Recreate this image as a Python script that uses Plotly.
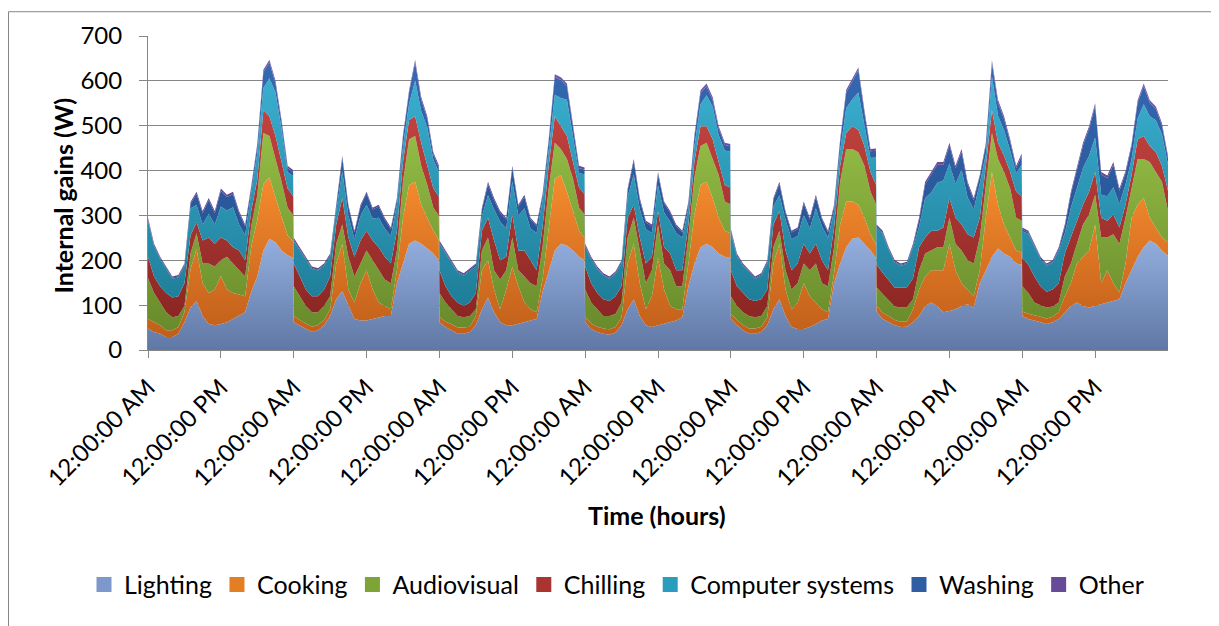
import plotly.graph_objects as go
import numpy as np

# time stamps in hours (hourly samples, plus the sample just before each midnight drop)
hours = (list(range(0, 24)) + [23.9] + list(range(24, 48)) + [47.9] + list(range(48, 72)) + [71.9]
         + list(range(72, 96)) + [95.9] + list(range(96, 120)) + [119.9]
         + list(range(120, 144)) + [143.9] + list(range(144, 169)))
tick_hours = [0, 12, 24, 36, 48, 60, 72, 84, 96, 108, 120, 132, 144, 156]
tick_labels = ["12:00:00 AM", "12:00:00 PM"] * 7

series_names = ["Lighting", "Cooking", "Audiovisual", "Chilling",
                "Computer systems", "Washing", "Other"]

lighting = [
    48, 40, 36, 29, 29, 36, 62, 95, 109, 76, 58, 55, 58, 62, 69, 76, 84, 130, 164, 222, 248, 240, 222, 211, 205,
    62, 55, 47, 40, 44, 55, 76, 113, 131, 98, 69, 66, 66, 69, 73, 76, 76, 149, 193, 237, 244, 237, 226, 215, 200,
    62, 51, 44, 36, 36, 40, 55, 91, 117, 84, 62, 55, 55, 58, 62, 66, 69, 130, 178, 222, 237, 233, 222, 208, 200,
    62, 47, 40, 36, 34, 39, 55, 91, 113, 76, 55, 51, 55, 58, 62, 66, 73, 142, 193, 229, 237, 229, 215, 208, 205,
    69, 55, 44, 36, 36, 40, 55, 91, 113, 76, 51, 47, 47, 51, 58, 66, 69, 149, 193, 229, 248, 251, 237, 222, 205,
    85, 69, 62, 55, 51, 52, 62, 76, 98, 106, 98, 84, 87, 91, 98, 102, 95, 149, 178, 208, 226, 215, 208, 193, 190,
    76, 69, 66, 62, 58, 62, 69, 84, 98, 106, 98, 95, 98, 102, 106, 109, 113, 149, 178, 208, 229, 244, 237, 222,
    210]
cooking = [
    21, 22, 19, 15, 15, 15, 22, 85, 116, 73, 69, 80, 107, 73, 58, 48, 36, 100, 126, 148, 137, 100, 78, 44, 38,
    14, 12, 12, 12, 12, 12, 15, 80, 106, 37, 37, 83, 112, 66, 33, 22, 15, 29, 102, 131, 131, 87, 69, 51, 45,
    12, 12, 14, 14, 14, 12, 21, 87, 83, 51, 29, 80, 130, 84, 44, 25, 15, 29, 88, 160, 153, 120, 88, 58, 50,
    12, 12, 12, 12, 12, 12, 18, 102, 124, 73, 36, 69, 150, 77, 36, 25, 18, 51, 109, 139, 138, 110, 80, 58, 55,
    12, 12, 12, 12, 12, 12, 18, 102, 124, 59, 40, 59, 102, 69, 48, 25, 15, 22, 87, 102, 83, 73, 58, 36, 30,
    15, 14, 14, 12, 12, 12, 29, 59, 66, 72, 80, 94, 150, 87, 51, 33, 25, 29, 117, 189, 98, 65, 43, 29, 28,
    10, 12, 12, 12, 12, 12, 15, 36, 51, 87, 110, 127, 182, 47, 72, 40, 15, 44, 117, 116, 110, 51, 36, 29,
    30]
audiovisual = [
    91, 65, 51, 40, 29, 25, 14, 35, 35, 44, 66, 51, 35, 73, 66, 54, 44, 46, 55, 114, 92, 86, 75, 62, 58,
    66, 53, 39, 32, 28, 31, 29, 44, 43, 73, 58, 44, 44, 65, 72, 59, 58, 44, 80, 102, 102, 87, 73, 51, 55,
    53, 43, 33, 26, 23, 24, 15, 44, 51, 43, 66, 43, 66, 36, 58, 58, 58, 73, 94, 80, 58, 73, 72, 51, 52,
    61, 47, 39, 28, 30, 29, 33, 58, 58, 73, 58, 58, 75, 58, 80, 51, 51, 58, 83, 87, 87, 87, 95, 65, 65,
    39, 31, 28, 28, 25, 24, 25, 36, 29, 43, 44, 43, 44, 58, 87, 58, 58, 58, 95, 117, 117, 117, 116, 95, 90,
    40, 42, 34, 30, 32, 32, 22, 43, 51, 44, 51, 51, 58, 59, 73, 65, 73, 73, 80, 87, 102, 117, 109, 73, 70,
    56, 46, 28, 26, 25, 23, 22, 44, 44, 44, 72, 80, 66, 102, 73, 109, 109, 102, 65, 102, 87, 124, 124, 124,
    70]
chilling = [
    48, 37, 36, 43, 44, 44, 51, 40, 25, 51, 58, 51, 51, 36, 36, 44, 36, 34, 35, 51, 44, 51, 44, 43, 42,
    51, 44, 37, 36, 36, 37, 44, 43, 59, 43, 44, 51, 44, 44, 51, 51, 44, 44, 44, 43, 44, 51, 43, 43, 42,
    51, 36, 29, 30, 25, 30, 36, 44, 44, 66, 43, 30, 51, 44, 58, 51, 36, 44, 51, 59, 51, 51, 37, 45, 45,
    51, 43, 36, 37, 33, 40, 36, 44, 29, 29, 44, 30, 30, 36, 37, 36, 36, 29, 35, 44, 37, 44, 29, 37, 37,
    58, 44, 43, 37, 36, 37, 37, 51, 44, 44, 43, 44, 44, 37, 44, 51, 36, 44, 36, 36, 51, 50, 44, 44, 44,
    50, 47, 45, 42, 44, 44, 47, 51, 36, 44, 37, 44, 44, 58, 58, 58, 58, 44, 36, 51, 36, 36, 37, 58, 55,
    63, 63, 58, 42, 35, 38, 43, 51, 58, 51, 44, 51, 51, 44, 37, 44, 36, 29, 30, 44, 51, 36, 44, 36,
    45]
computer = [
    80, 67, 61, 54, 42, 42, 38, 61, 38, 36, 53, 43, 69, 67, 89, 58, 56, 41, 60, 49, 85, 97, 74, 36, 45,
    50, 58, 68, 61, 57, 53, 44, 31, 59, 49, 39, 56, 58, 49, 66, 63, 61, 59, 36, 36, 80, 71, 85, 64, 55,
    59, 74, 75, 67, 68, 70, 59, 32, 50, 70, 86, 63, 74, 78, 94, 71, 83, 59, 34, 48, 63, 81, 55, 32, 45,
    44, 53, 54, 53, 50, 50, 51, 46, 67, 63, 76, 53, 57, 78, 71, 83, 72, 36, 35, 49, 69, 73, 60, 77, 80,
    84, 67, 61, 60, 50, 53, 58, 40, 35, 69, 69, 61, 64, 56, 79, 76, 72, 37, 34, 55, 60, 83, 49, 31, 60,
    82, 87, 68, 56, 49, 52, 68, 46, 88, 85, 107, 105, 77, 75, 122, 82, 63, 76, 26, 75, 60, 57, 48, 41, 70,
    60, 69, 67, 60, 58, 60, 72, 45, 66, 72, 82, 80, 77, 51, 55, 61, 52, 45, 35, 46, 71, 66, 71, 70,
    58]
washing = [
    3, 3, 2, 2, 2, 2, 3, 10, 25, 25, 30, 25, 35, 30, 30, 25, 20, 10, 15, 35, 35, 20, 15, 10, 8,
    3, 3, 2, 2, 2, 2, 4, 15, 30, 20, 15, 20, 25, 20, 25, 20, 15, 10, 20, 25, 40, 25, 20, 12, 10,
    3, 3, 2, 2, 2, 3, 4, 15, 25, 20, 20, 20, 30, 20, 25, 20, 15, 10, 20, 40, 40, 30, 20, 12, 10,
    3, 3, 2, 2, 2, 2, 4, 15, 30, 20, 15, 15, 25, 20, 20, 15, 12, 10, 20, 25, 20, 15, 15, 12, 12,
    4, 3, 2, 2, 2, 2, 4, 15, 25, 15, 15, 15, 25, 20, 25, 15, 12, 10, 20, 35, 40, 50, 25, 15, 15,
    4, 3, 3, 2, 2, 2, 5, 15, 30, 40, 40, 35, 40, 35, 40, 30, 20, 15, 20, 30, 30, 25, 20, 12, 20,
    4, 3, 3, 3, 2, 2, 4, 15, 30, 45, 50, 60, 70, 45, 40, 50, 30, 25, 30, 35, 40, 30, 25, 20,
    15]
other = [
    4, 3, 3, 3, 3, 3, 3, 4, 5, 5, 5, 5, 5, 5, 5, 5, 4, 4, 5, 6, 6, 6, 5, 5, 5,
    4, 4, 3, 3, 3, 3, 3, 4, 5, 4, 4, 4, 4, 4, 4, 4, 4, 4, 5, 5, 6, 6, 5, 5, 5,
    4, 3, 3, 3, 3, 3, 3, 4, 5, 5, 4, 4, 5, 4, 5, 4, 4, 4, 5, 6, 6, 6, 5, 5, 5,
    4, 3, 3, 3, 3, 3, 3, 4, 5, 5, 4, 4, 5, 4, 4, 4, 4, 4, 5, 6, 6, 6, 5, 5, 5,
    4, 3, 3, 3, 3, 3, 3, 4, 5, 4, 4, 4, 5, 4, 5, 4, 4, 4, 5, 6, 6, 6, 6, 5, 5,
    4, 4, 3, 3, 3, 3, 4, 5, 6, 6, 6, 6, 6, 6, 6, 5, 5, 4, 5, 6, 6, 6, 5, 5, 5,
    4, 4, 3, 3, 3, 3, 4, 5, 6, 6, 6, 6, 6, 6, 6, 6, 5, 5, 5, 6, 6, 6, 6, 5,
    5]

series_values = [lighting, cooking, audiovisual, chilling, computer, washing, other]

# (bottom colour, top colour) of each series' vertical gradient, legend swatch colour
gradients = [
    ("#5E76A3", "#93AEDE", "#7D98CB"),
    ("#C05E1A", "#F68C2E", "#E47E24"),
    ("#688A2B", "#93BC45", "#7EA336"),
    ("#8A2623", "#C2433F", "#AA3430"),
    ("#1E7D98", "#3AAFD0", "#2A9DBD"),
    ("#22508F", "#3669B2", "#2F5EA3"),
    ("#573C83", "#7658AA", "#684B98"),
]

FONT = "Lato"
GRID = "#868686"
OFF = 8            # page body margin
PL, PT, PW, PH = 148 - OFF, 33 - OFF, 1020, 317   # plot area inside the figure


def px(x):
    return (x - OFF - PL) / PW


def py(y):
    return (PT + PH - (y - OFF)) / PH


fig = go.Figure()
cum = np.zeros(len(hours))
for name, vals, (c0, c1, cm) in zip(series_names, series_values, gradients):
    v = np.array(vals, dtype=float)
    bottom = cum.copy()
    cum = cum + v
    fig.add_trace(go.Scatter(
        x=hours, y=vals, name=name, mode="lines", stackgroup="one",
        line=dict(width=0, color=c1), fillcolor=c1,
        fillgradient=dict(type="vertical", colorscale=[[0, c0], [1, c1]],
                          start=float(bottom.min()), stop=float(cum.max())),
        showlegend=False, hoverinfo="skip",
    ))

# legend swatches (square keys)
for name, (c0, c1, cm) in zip(series_names, gradients):
    fig.add_trace(go.Scatter(
        x=[None], y=[None], mode="markers", name=name,
        marker=dict(symbol="square", size=15, color=cm, line=dict(width=0)),
        showlegend=True, hoverinfo="skip"))

fig.update_layout(
    width=1219 - OFF, height=626 - OFF,
    margin=dict(l=PL, r=1219 - OFF - PL - PW, t=PT, b=626 - OFF - PT - PH),
    paper_bgcolor="white", plot_bgcolor="white",
    font=dict(family=FONT, size=24, color="black"),
    showlegend=True,
    legend=dict(orientation="h", x=px(84), xanchor="left",
                y=py(587), yanchor="middle", traceorder="normal",
                font=dict(family=FONT, size=25, color="black"),
                itemsizing="trace", tracegroupgap=0),
    xaxis=dict(range=[0, 168], tickmode="array", tickvals=tick_hours,
               ticktext=tick_labels, tickangle=-45, showgrid=False,
               showline=True, linecolor=GRID, linewidth=1,
               ticks="outside", ticklen=7, tickcolor=GRID,
               ticklabelstandoff=6,
               tickfont=dict(family=FONT, size=24, color="black"),
               zeroline=False),
    yaxis=dict(range=[0, 700], dtick=100, showgrid=True, gridcolor=GRID,
               gridwidth=1.2, showline=True, linecolor=GRID, linewidth=1,
               ticks="outside", ticklen=8, tickcolor=GRID,
               ticklabelstandoff=12,
               tickfont=dict(family=FONT, size=24, color="black"),
               zeroline=False),
    annotations=[
        dict(text="<b>Internal gains (W)</b>", xref="paper", yref="paper",
             x=px(63), y=py(194), textangle=-90,
             showarrow=False, xanchor="center", yanchor="middle",
             font=dict(family=FONT, size=25, color="black")),
        dict(text="<b>Time (hours)</b>", xref="paper", yref="paper",
             x=px(657), y=py(517),
             showarrow=False, xanchor="center", yanchor="middle",
             font=dict(family=FONT, size=25, color="black")),
    ],
    shapes=[dict(type="rect", xref="paper", yref="paper",
                 x0=px(8.5), x1=px(1216.5), y0=py(700), y1=py(8.5),
                 line=dict(color=GRID, width=1), fillcolor="rgba(0,0,0,0)",
                 layer="below")],
)

fig.write_html("out.html")
